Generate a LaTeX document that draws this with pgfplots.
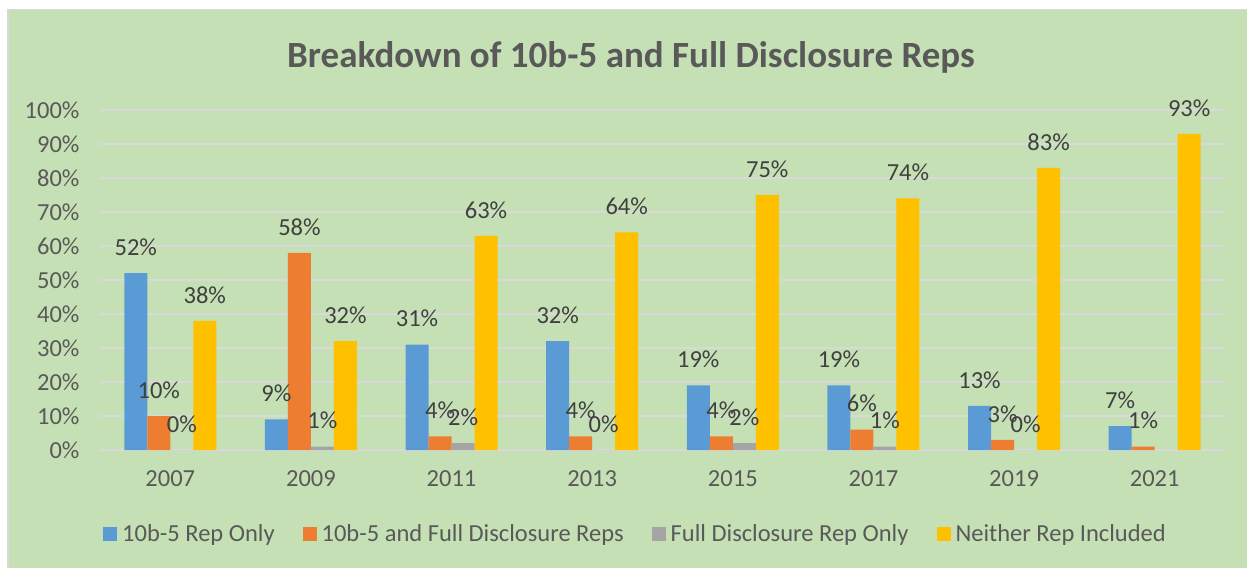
\documentclass[border=0pt]{standalone}
\usepackage{pgfplots}
\pgfplotsset{compat=1.18}
\usepackage{fontspec}
\setmainfont{Carlito}
\definecolor{bgG}{HTML}{C5E0B4}
\definecolor{gridG}{HTML}{D9D9D9}
\definecolor{cBlue}{HTML}{5B9BD5}
\definecolor{cOrange}{HTML}{ED7D31}
\definecolor{cGray}{HTML}{A5A5A5}
\definecolor{cGold}{HTML}{FFC000}
\definecolor{txtA}{HTML}{595959}
\definecolor{txtB}{HTML}{404040}
\begin{document}
\begin{tikzpicture}
\fill[white] (0pt,0pt) rectangle (1247pt,568pt);
\fill[gridG] (7pt,0pt) rectangle (1247pt,559pt);
\fill[bgG] (8.5pt,0pt) rectangle (1247pt,557.5pt);
\node[font=\fontsize{37}{44}\selectfont\bfseries, text=txtA] at (631pt,511pt) {Breakdown of 10b-5 and Full Disclosure Reps};
\begin{axis}[
  at={(100pt,118pt)}, anchor=south west,
  scale only axis, width=1125pt, height=340pt,
  ybar=0pt, bar width=0.1636,
  xmin=-0.5, xmax=7.5, ymin=0, ymax=100,
  xtick={0,...,7},
  xticklabels={2007,2009,2011,2013,2015,2017,2019,2021},
  ytick={0,10,...,100},
  yticklabel={\pgfmathprintnumber{\tick}\%},
  /pgf/number format/assume math mode=true,
  ticklabel style={font=\fontsize{24.5}{29}\selectfont, text=txtA},
  xticklabel style={yshift=-13pt},
  yticklabel style={xshift=-17pt},
  axis line style={draw=none},
  tick style={draw=none},
  ymajorgrids,
  major grid style={draw=gridG, line width=1.6pt},
  nodes near coords={\pgfmathprintnumber{\pgfplotspointmeta}\%},
  every node near coord/.append style={font=\fontsize{24.5}{29}\selectfont, text=txtB, anchor=center, yshift=26pt},
  legend columns=4,
  legend style={draw=none, fill=none, at={(0.476,-0.247)}, anchor=center,
    font=\fontsize{24.5}{29}\selectfont, text=txtA,
    /tikz/every even column/.append style={column sep=26pt},
    /tikz/every odd column/.append style={column sep=3pt}},
  legend image code/.code={\fill[#1] (0pt,-7pt) rectangle (14pt,7pt);},
]
\addplot[fill=cBlue, draw=none] coordinates {(0,52) (1,9) (2,31) (3,32) (4,19) (5,19) (6,13) (7,7)};
\addplot[fill=cOrange, draw=none] coordinates {(0,10) (1,58) (2,4) (3,4) (4,4) (5,6) (6,3) (7,1)};
\addplot[fill=cGray, draw=none] coordinates {(0,0) (1,1) (2,2) (3,0) (4,2) (5,1) (6,0)};
\addplot[fill=cGold, draw=none] coordinates {(0,38) (1,32) (2,63) (3,64) (4,75) (5,74) (6,83) (7,93)};
\legend{10b-5 Rep Only, 10b-5 and Full Disclosure Reps, Full Disclosure Rep Only, Neither Rep Included}
\end{axis}
\end{tikzpicture}
\end{document}
